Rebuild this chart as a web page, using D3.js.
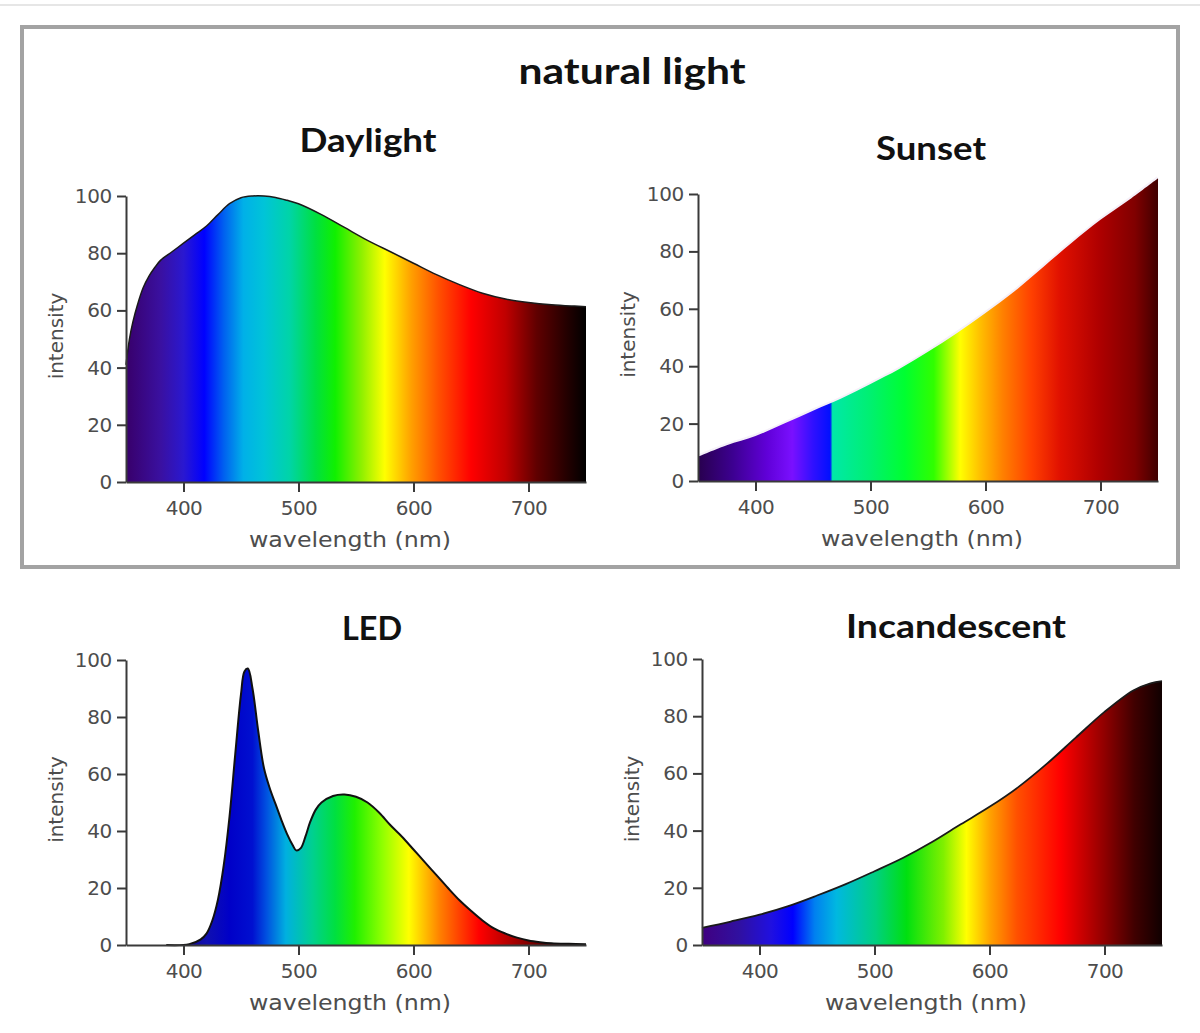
<!DOCTYPE html>
<html><head><meta charset="utf-8">
<script src="https://cdn.jsdelivr.net/npm/d3@7"></script>
<style>body{margin:0;background:#fff;overflow:hidden}</style>
</head><body>
<svg id="c" width="1200" height="1033"></svg>
<script>
// ---------- DATA ----------
const groupTitle = "natural light";
const panelTitles = ["Daylight", "Sunset", "LED", "Incandescent"];
const xLabel = "wavelength (nm)";
const yLabel = "intensity";
const wavelengthTicks = [400, 500, 600, 700];
const intensityTicks = [0, 20, 40, 60, 80, 100];
const wavelengthDomain = [350, 750];
const intensityDomain = [0, 100];

const daylightNm  = [350,353,356,360,365,370,375,380,390,400,410,420,430,440,450,460,470,480,490,500,520,540,560,580,600,620,640,660,680,700,720,740,750];
const daylightVal = [41,50,56,62,68,72,75,77.5,80.5,83.5,86.5,89.5,93.5,97.3,99.4,100,100,99.5,98.5,97.3,93.5,89,84.5,80.5,76.5,72.5,69,66,64,62.8,62,61.5,61.3];

const sunsetNm  = [350,375,400,425,450,475,500,525,550,575,600,625,650,675,700,725,750];
const sunsetVal = [8.5,12.5,15.7,20,24.5,28.8,33.8,39,45,51.5,58.5,66,74.5,83,91,98,105.5];

const ledNm  = [385,405,415,420,425,430,435,440,445,450,453,456,460,465,470,475,480,485,490,495,498,502,506,510,515,520,530,540,550,560,570,580,590,600,610,620,630,640,650,660,670,680,690,700,710,720,735,750];
const ledVal = [0,0.3,2,4,8.5,16,28,45,67,88,96,97,90,75,62,55,49.5,44,39,35,33.2,34,38,43,47.5,50,52.3,52.8,52,50,46.5,42,38,33.5,29,24.5,20,15.7,12,8.6,5.8,4,2.6,1.6,1,0.6,0.4,0.3];

const incNm  = [350,375,400,425,450,475,500,525,550,575,600,625,650,675,700,725,740,750];
const incVal = [6,8.2,10.6,13.6,17.3,21.3,25.8,30.5,36,42.2,48.3,55.2,63.4,72.5,81.5,89,91.5,92.3];

// ---------- STYLE / LAYOUT ----------
const daylightStops = [[350,"#38006a"],[380,"#3a10a0"],[400,"#2a18d0"],[418,"#0000ff"],[435,"#0060f0"],[452,"#00b0e8"],[470,"#00c4d8"],[492,"#00d4a8"],[515,"#00e040"],[532,"#10f000"],[555,"#90f000"],[575,"#ffff00"],[598,"#ffa000"],[622,"#ff5000"],[650,"#ff0000"],[680,"#c00000"],[707,"#600000"],[735,"#200000"],[750,"#000000"]];
const sunsetStops = [[350,"#28004e"],[380,"#3c0090"],[410,"#6000d8"],[432,"#7a10ff"],[450,"#3010ff"],[465,"#0010ff"],[467,"#00e8a8"],[500,"#00f070"],[530,"#00ff30"],[555,"#30ff00"],[578,"#ffff00"],[595,"#ffc000"],[615,"#ff8000"],[640,"#ff4000"],[665,"#e01000"],[698,"#b00000"],[730,"#800000"],[750,"#400000"]];
const ledStops = [[380,"#1a0060"],[420,"#1010b0"],[440,"#0000c8"],[460,"#0010d0"],[472,"#0050e0"],[489,"#00b0e0"],[512,"#00d090"],[532,"#00e040"],[549,"#20f000"],[573,"#90ff00"],[596,"#ffff00"],[623,"#ff8000"],[657,"#ff0000"],[690,"#a00000"],[723,"#400000"],[750,"#000000"]];
const incStops = [[350,"#400080"],[382,"#3010a0"],[410,"#2010e0"],[429,"#0000ff"],[448,"#0080f0"],[467,"#00b8e0"],[501,"#00d080"],[528,"#00e010"],[560,"#80f000"],[580,"#ffff00"],[601,"#ffa000"],[624,"#ff5000"],[662,"#ff0000"],[700,"#900000"],[726,"#400000"],[750,"#100000"]];

const panels = [
  {title: panelTitles[0], nm: daylightNm, val: daylightVal, stops: daylightStops, x0: 126, y100: 196, y0: 482, stroke: "#1a1a1a", sw: 1.5, tx: 368, ty: 152, tw: 137},
  {title: panelTitles[1], nm: sunsetNm, val: sunsetVal, stops: sunsetStops, x0: 698, y100: 194, y0: 481, stroke: null, sw: 0, tx: 931, ty: 160, tw: 110},
  {title: panelTitles[2], nm: ledNm, val: ledVal, stops: ledStops, x0: 126, y100: 660, y0: 945, stroke: "#111", sw: 2, tx: 372, ty: 640, tw: 60},
  {title: panelTitles[3], nm: incNm, val: incVal, stops: incStops, x0: 702, y100: 659, y0: 945, stroke: "#1a1a1a", sw: 1.8, tx: 956, ty: 638, tw: 220}
];
const pxPerNm = 1.15;
const axisColor = "#3a3a3a";
const textColor = "#4d4d4d";
const tickFont = "'DejaVu Sans', sans-serif";
const titleFont = "Lato, 'Open Sans', sans-serif";

const svg = d3.select("#c");
svg.append("rect").attr("width",1200).attr("height",1033).attr("fill","#fff");
svg.append("line").attr("x1",0).attr("x2",1200).attr("y1",5).attr("y2",5).attr("stroke","#e6e6e6").attr("stroke-width",2);
svg.append("rect").attr("x",22).attr("y",27).attr("width",1156).attr("height",540)
  .attr("fill","none").attr("stroke","#a3a3a3").attr("stroke-width",4);
svg.append("text").text(groupTitle).attr("x",632).attr("y",84).attr("text-anchor","middle")
  .attr("font-family",titleFont).attr("font-weight",700).attr("font-size",36).attr("fill","#111")
  .attr("textLength",227).attr("lengthAdjust","spacingAndGlyphs");

const defs = svg.append("defs");
const curve = d3.curveCatmullRom.alpha(0.5);

panels.forEach((p, i) => {
  const W = (wavelengthDomain[1]-wavelengthDomain[0]) * pxPerNm;
  const H = p.y0 - p.y100;
  const x = d3.scaleLinear().domain(wavelengthDomain).range([0, W]);
  const y = d3.scaleLinear().domain(intensityDomain).range([H, 0]);
  const off = d3.scaleLinear().domain(wavelengthDomain).range([0, 1]);

  const gid = "grad" + i;
  const grad = defs.append("linearGradient").attr("id", gid)
    .attr("gradientUnits","userSpaceOnUse")
    .attr("x1", x(wavelengthDomain[0])).attr("x2", x(wavelengthDomain[1])).attr("y1",0).attr("y2",0);
  p.stops.forEach(s => grad.append("stop").attr("offset", off(s[0])).attr("stop-color", s[1]));

  const g = svg.append("g").attr("transform", `translate(${p.x0},${p.y100})`);
  const pts = p.nm.map((n, k) => [n, p.val[k]]);

  const area = d3.area().x(d => x(d[0])).y0(y(0)).y1(d => y(d[1])).curve(curve);
  const line = d3.line().x(d => x(d[0])).y(d => y(d[1])).curve(curve);

  if (i === 1) {
    g.append("path").datum(pts).attr("d", line).attr("fill","none")
      .attr("stroke","#f4eef8").attr("stroke-width",4).attr("opacity",0.9);
  }
  g.append("path").datum(pts).attr("d", area).attr("fill", `url(#${gid})`);
  if (p.stroke) {
    g.append("path").datum(pts).attr("d", line).attr("fill","none")
      .attr("stroke", p.stroke).attr("stroke-width", p.sw);
  }

  const xAxis = d3.axisBottom(x).tickValues(wavelengthTicks).tickSize(10).tickSizeOuter(0).tickPadding(9);
  const yAxis = d3.axisLeft(y).tickValues(intensityTicks).tickSize(9).tickSizeOuter(0).tickPadding(5);
  const gx = g.append("g").attr("transform", `translate(0,${H})`).call(xAxis);
  const gy = g.append("g").call(yAxis);
  [gx, gy].forEach(a => {
    a.select(".domain").attr("stroke", axisColor).attr("stroke-width", 2);
    a.selectAll(".tick line").attr("stroke", axisColor).attr("stroke-width", 2);
    a.selectAll(".tick text").attr("fill", textColor).attr("font-family", tickFont).attr("font-size", 20);
  });
  gy.selectAll(".tick text").attr("letter-spacing", -0.3);
  gx.selectAll(".tick text").attr("letter-spacing", -0.5);

  g.append("text").text(xLabel).attr("x", W/2 - 6).attr("y", H + 65).attr("text-anchor","middle")
    .attr("fill", textColor).attr("font-family", tickFont).attr("font-size", 21)
    .attr("textLength", 202).attr("lengthAdjust","spacingAndGlyphs");
  g.append("text").text(yLabel).attr("transform", `translate(-63,${H/2 - 3}) rotate(-90)`)
    .attr("text-anchor","middle").attr("fill", textColor).attr("font-family", tickFont).attr("font-size", 20);

  svg.append("text").text(p.title).attr("x", p.tx).attr("y", p.ty).attr("text-anchor","middle")
    .attr("font-family", titleFont).attr("font-weight",700).attr("font-size",33).attr("fill","#111")
    .attr("textLength", p.tw).attr("lengthAdjust","spacingAndGlyphs");
});
</script>
</body></html>
